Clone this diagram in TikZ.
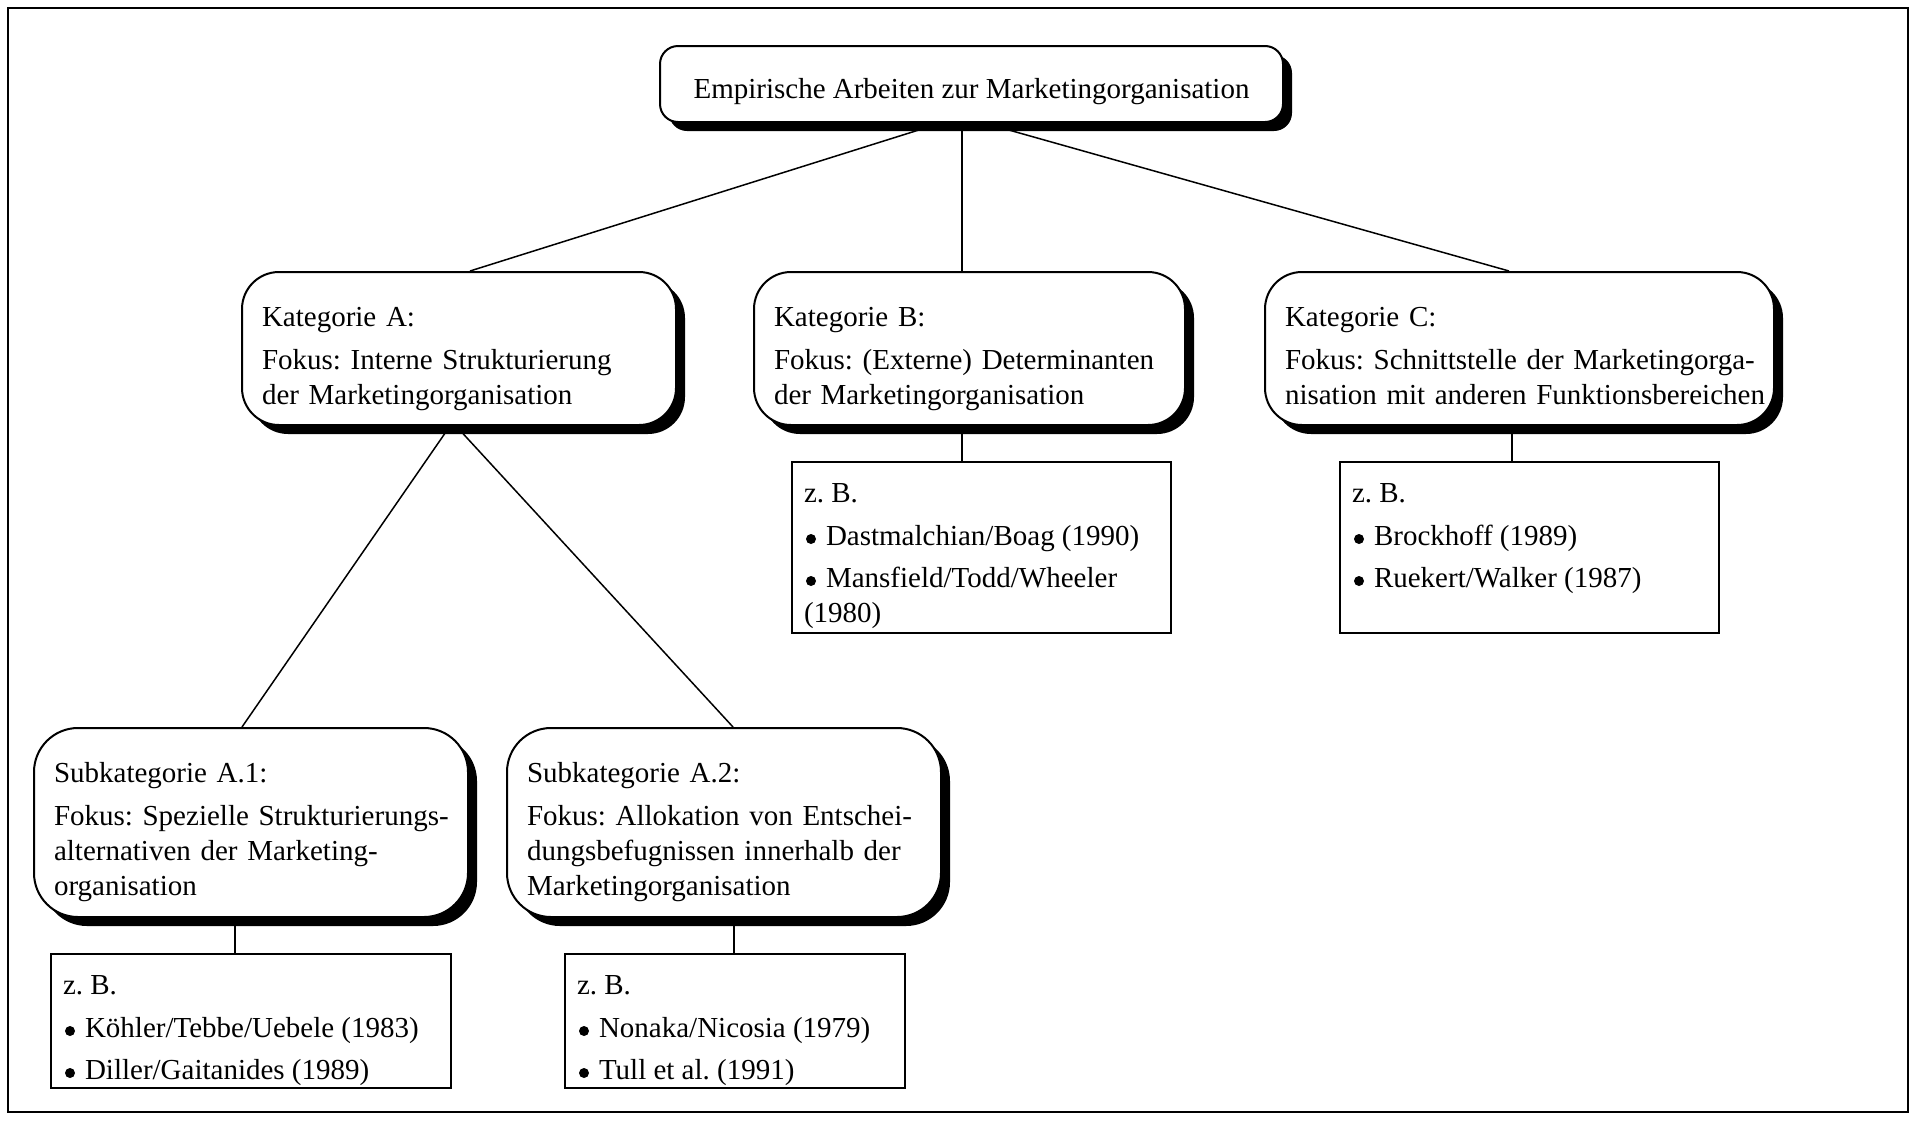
\documentclass[tikz,border=0pt]{standalone}
\usepackage{fontspec}
\setmainfont{Liberation Serif}
\usetikzlibrary{shadows}
\frenchspacing
\newcommand\bul{\hspace*{2pt}\tikz[baseline={(0pt,-6pt)}]{\fill (0pt,0pt) circle (5pt);}\hspace{10pt}}
\newcommand\tl[1]{\mbox{#1}}
\newcommand\dn{\rule{0pt}{40pt}}
\newcommand\dl{\rule{0pt}{30pt}}
\newcommand\dpth{\rule[-7pt]{0pt}{7pt}}
\begin{document}
\begin{tikzpicture}[x=1pt,y=-1pt,
  every node/.style={font=\fontsize{29}{35}\selectfont},
  rbox/.style={draw, line width=2pt, fill=white, align=left, inner xsep=20pt, inner ysep=0pt,
    drop shadow={shadow xshift=9pt, shadow yshift=-9pt, fill=black, opacity=1}},
  lbox/.style={draw, line width=1.8pt, fill=white, inner xsep=12pt, inner ysep=10pt},
  conn/.style={line width=1.5pt}]
\useasboundingbox (0,0) rectangle (1916,1120);
\draw[line width=1.5pt] (8,8) rectangle (1908,1112);

\node[rbox, align=center, minimum width=623pt, minimum height=76pt, rounded corners=18pt] (top) at (971.5,84) {\rule{0pt}{35pt}Empirische Arbeiten zur Marketingorganisation};

\node[rbox, text width=394pt, minimum width=434pt, minimum height=153pt, rounded corners=37pt] (katA) at (459,348.5)
 {\dn\tl{Kategorie A:}\\[8pt]\tl{Fokus: Interne Strukturierung}\\\tl{der Marketingorganisation}\dpth};
\node[rbox, text width=391pt, minimum width=431pt, minimum height=153pt, rounded corners=37pt] (katB) at (969.5,348.5)
 {\dn\tl{Kategorie B:}\\[8pt]\tl{Fokus: (Externe) Determinanten}\\\tl{der Marketingorganisation}\dpth};
\node[rbox, text width=469pt, minimum width=509pt, minimum height=153pt, rounded corners=37pt] (katC) at (1519.5,348.5)
 {\dn\tl{Kategorie C:}\\[8pt]\tl{Fokus: Schnittstelle der Marketingorga-}\\\tl{nisation mit anderen Funktionsbereichen}\dpth};

\node[rbox, text width=394pt, minimum width=434pt, minimum height=189pt, rounded corners=44pt] (subA1) at (251,822.5)
 {\dn\tl{Subkategorie A.1:}\\[8pt]\tl{Fokus: Spezielle Strukturierungs-}\\\tl{alternativen der Marketing-}\\\tl{organisation}\dpth};
\node[rbox, text width=394pt, minimum width=434pt, minimum height=189pt, rounded corners=44pt] (subA2) at (724,822.5)
 {\dn\tl{Subkategorie A.2:}\\[8pt]\tl{Fokus: Allokation von Entschei-}\\\tl{dungsbefugnissen innerhalb der}\\\tl{Marketingorganisation}\dpth};

\node[lbox] (boxB) at (981.5,547.5) {\begin{minipage}[c][151pt][t]{355pt}\raggedright \dl z. B.\\[8pt]\bul Dastmalchian/Boag (1990)\\[7pt]\bul Mansfield/Todd/Wheeler\\(1980)\end{minipage}};
\node[lbox] (boxC) at (1529.5,547.5) {\begin{minipage}[c][151pt][t]{355pt}\raggedright \dl z. B.\\[8pt]\bul Brockhoff (1989)\\[7pt]\bul Ruekert/Walker (1987)\end{minipage}};
\node[lbox] (boxA1) at (251,1021) {\begin{minipage}[c][114pt][t]{376pt}\raggedright \dl z. B.\\[8pt]\bul Köhler/Tebbe/Uebele (1983)\\[7pt]\bul Diller/Gaitanides (1989)\end{minipage}};
\node[lbox] (boxA2) at (735,1021) {\begin{minipage}[c][114pt][t]{316pt}\raggedright \dl z. B.\\[8pt]\bul Nonaka/Nicosia (1979)\\[7pt]\bul Tull et al. (1991)\end{minipage}};

\draw[conn] ([xshift=-30.5pt]top.south) -- ([xshift=11pt]katA.north);
\draw[conn] ([xshift=-9.5pt]top.south) -- ([xshift=-7.5pt]katB.north);
\draw[conn] ([xshift=12.5pt]top.south) -- ([xshift=-10.5pt]katC.north);
\draw[conn] ([xshift=-9pt]katA.south) -- ([xshift=-9pt]subA1.north);
\draw[conn] ([xshift=-3pt]katA.south) -- ([xshift=9pt]subA2.north);
\draw[conn] ([xshift=-7.5pt]katB.south) -- ([xshift=-19.5pt]boxB.north);
\draw[conn] ([xshift=-7.5pt]katC.south) -- ([xshift=-17.5pt]boxC.north);
\draw[conn] ([xshift=-16pt]subA1.south) -- ([xshift=-16pt]boxA1.north);
\draw[conn] ([xshift=10pt]subA2.south) -- ([xshift=-1pt]boxA2.north);
\end{tikzpicture}
\end{document}
